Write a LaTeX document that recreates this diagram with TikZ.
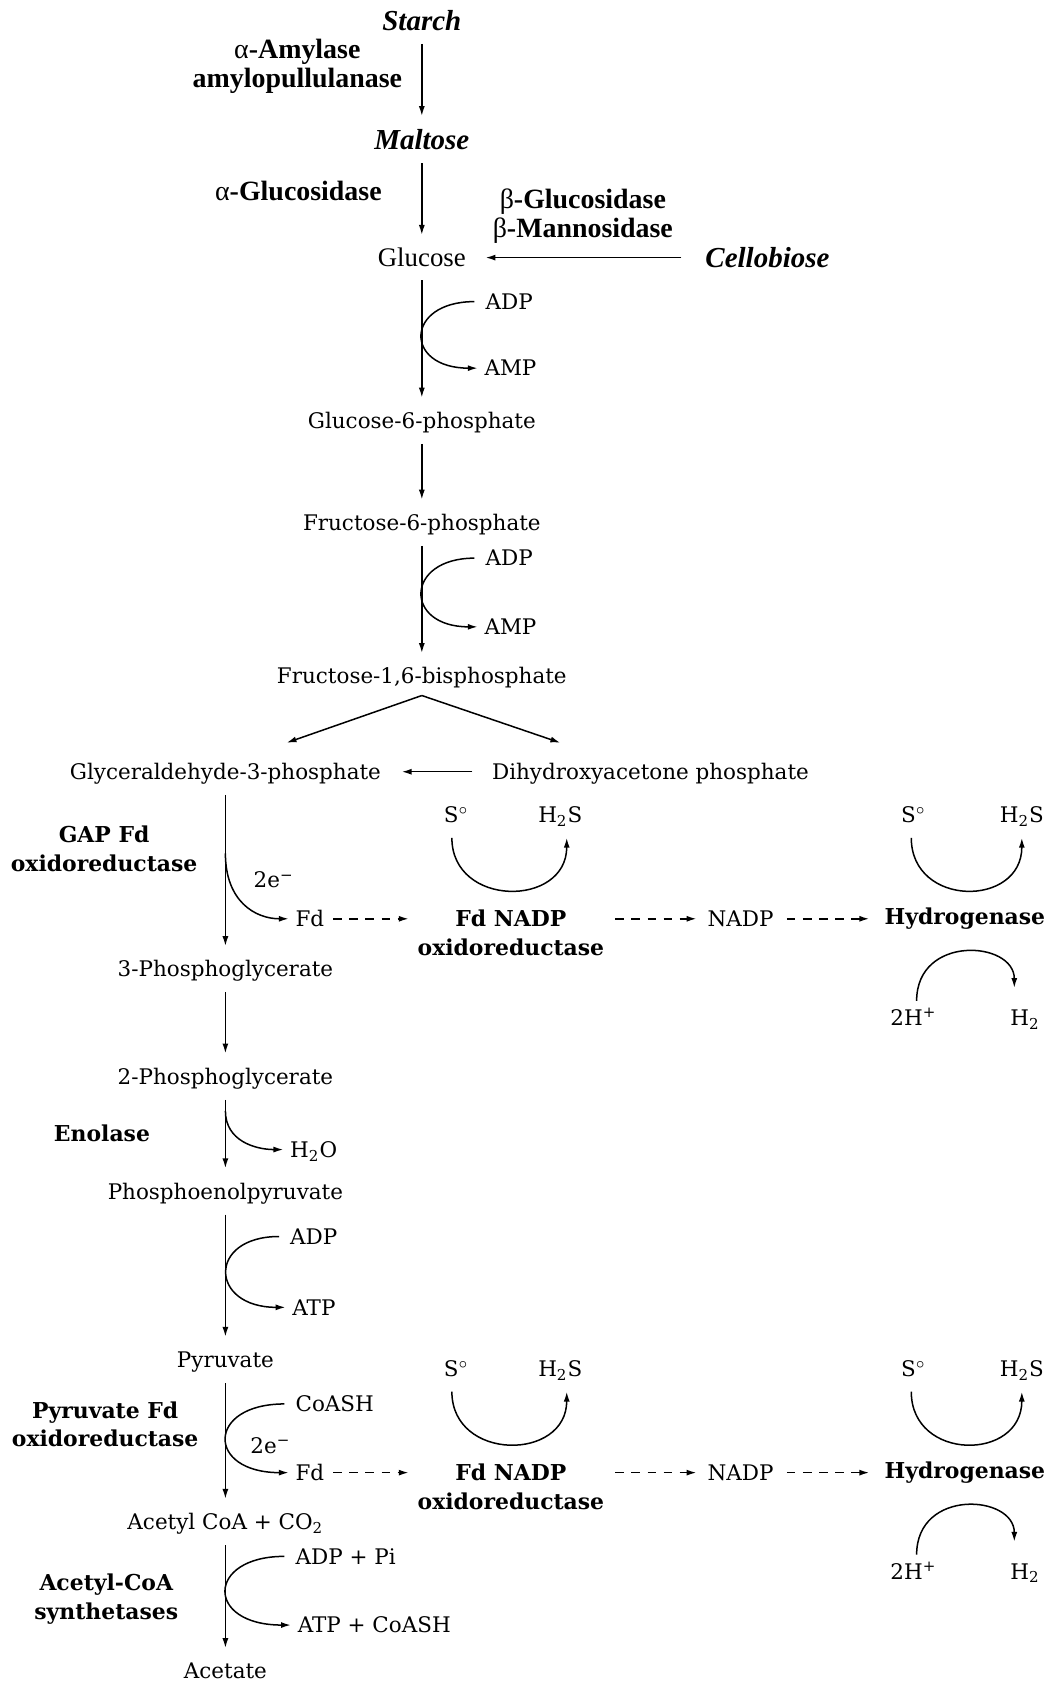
\documentclass[tikz,border=0pt]{standalone}
\usepackage{fontspec}
\setmainfont{DejaVu Serif}
\newfontfamily\tnr{Liberation Serif}
\usetikzlibrary{arrows.meta}

\begin{document}
\begin{tikzpicture}[x=0.5pt,y=-0.5pt,
  >={Latex[length=4.6pt,width=2.8pt]},
  every node/.style={inner sep=1pt},
  met/.style={font=\fontsize{10}{12}\selectfont,text height=8.2pt,text depth=1pt},
  lbl/.style={met,anchor=west},
  enz/.style={font=\fontsize{10.2}{13.5}\selectfont\bfseries,align=center},
  tms/.style={font=\tnr\fontsize{12.5}{14}\selectfont},
  tenz/.style={font=\tnr\fontsize{13}{13.5}\selectfont\bfseries,align=center},
  sugar/.style={font=\tnr\fontsize{13.5}{14}\selectfont\bfseries\itshape},
  rx/.style={->,line width=0.7pt,shorten <=5pt,shorten >=5pt},
  side/.style={->,line width=0.7pt,shorten <=4pt,shorten >=2pt},
  feed/.style={->,line width=0.7pt,dash pattern=on 4pt off 3.5pt}]
\useasboundingbox (0,0) rectangle (975,1568);

% sugars and first enzymes
\node[sugar] (starch) at (393,19) {Starch};
\node[tenz] (amy) at (277,62) {{\mdseries α}-Amylase\\amylopullulanase};
\node[sugar] (malt) at (393,130) {Maltose};
\node[tenz] (agl) at (278,178) {{\mdseries α}-Glucosidase};
\node[tenz] (bgl) at (543,201) {{\mdseries β}-Glucosidase\\{\mdseries β}-Mannosidase};
\node[tms] (glc) at (393,240) {Glucose};
\node[sugar] (cello) at (715,240) {Cellobiose};
\draw[rx] (starch) -- (malt);
\draw[rx] (malt) -- (glc);
\draw[rx,shorten <=10pt,shorten >=8pt] (cello.west) -- (glc.east);

% main pathway
\node[met] (g6p) at (393,392) {Glucose-6-phosphate};
\node[met] (f6p) at (393,487) {Fructose-6-phosphate};
\node[met] (fbp) at (393,630) {Fructose-1,6-bisphosphate};
\node[met] (gap) at (210,719) {Glyceraldehyde-3-phosphate};
\node[met] (dhap) at (606,719) {Dihydroxyacetone phosphate};
\node[met] (pg3) at (210,903) {3-Phosphoglycerate};
\node[met] (pg2) at (210,1003) {2-Phosphoglycerate};
\node[met] (pep) at (210,1110) {Phosphoenolpyruvate};
\node[met] (pyr) at (210,1267) {Pyruvate};
\node[met] (accoa) at (210,1418) {Acetyl CoA + CO\textsubscript{2}};
\node[met] (ace) at (210,1557) {Acetate};

\draw[rx] (glc) -- (g6p);
\draw[rx] (g6p) -- (f6p);
\draw[rx] (f6p) -- (fbp);
\coordinate (fork) at (393,648);
\coordinate (forkl) at (267,692);
\coordinate (forkr) at (522,692);
\draw[->,line width=0.7pt] (fork) -- (forkl);
\draw[->,line width=0.7pt] (fork) -- (forkr);
\draw[rx,shorten <=8pt,shorten >=8.5pt] (dhap.west) -- (gap.east);
\draw[rx] (gap) -- (pg3);
\draw[rx] (pg3) -- (pg2);
\draw[rx] (pg2) -- (pep);
\draw[rx] (pep) -- (pyr);
\draw[rx] (pyr) -- (accoa);
\draw[rx] (accoa) -- (ace);

% enzymes on the left
\node[enz] (gapor) at (97,791) {GAP Fd\\oxidoreductase};
\node[enz] (eno) at (95,1056) {Enolase};
\node[enz] (pfor) at (98,1327) {Pyruvate Fd\\oxidoreductase};
\node[enz] (acs) at (99,1490) {Acetyl-CoA\\synthetases};

% cofactors
\node[lbl] (adp1) at (450,281) {ADP};
\node[lbl] (amp1) at (449,343) {AMP};
\draw[side] (adp1.west) .. controls +(-73,0) and +(-73,0) .. (amp1.west);
\node[lbl] (adp2) at (450,520) {ADP};
\node[lbl] (amp2) at (449,584) {AMP};
\draw[side] (adp2.west) .. controls +(-73,0) and +(-73,0) .. (amp2.west);
\node[met] (e1) at (255,820) {2e\textsuperscript{−}};
\coordinate (br1) at (210,795);
\node[lbl] (h2o) at (268,1071) {H\textsubscript{2}O};
\coordinate (br2) at (210,1035);
\draw[side,shorten <=0pt] (br2) .. controls +(0,28) and +(-30,0) .. (h2o.west);
\node[lbl] (adp3) at (268,1152) {ADP};
\node[lbl] (atp3) at (270,1218) {ATP};
\draw[side] (adp3.west) .. controls +(-75,0) and +(-75,0) .. (atp3.west);
\node[lbl] (coash) at (273,1308) {CoASH};
\node[met] (e2) at (252,1347) {2e\textsuperscript{−}};
\node[lbl] (adppi) at (273,1450) {ADP + Pi};
\node[lbl] (atpco) at (275,1514) {ATP + CoASH};
\draw[side] (adppi.west) .. controls +(-81,0) and +(-84,0) .. (atpco.west);

% ferredoxin to hydrogenase, twice
\foreach \dy/\k in {0/1,516/2}{
  \node[lbl] (fd\k) at (273,{856+\dy}) {Fd};
  \node[enz] (fdn\k) at (476,{869+\dy}) {Fd NADP\\oxidoreductase};
  \node[met] (nadp\k) at (690,{856+\dy}) {NADP};
  \node[enz] (hyd\k) at (899,{856+\dy}) {Hydrogenase};
  \node[met] (sa\k) at (425,{759+\dy}) {S$^\circ$};
  \node[met] (ha\k) at (522,{759+\dy}) {H\textsubscript{2}S};
  \node[met] (sb\k) at (851,{759+\dy}) {S$^\circ$};
  \node[met] (hb\k) at (952,{759+\dy}) {H\textsubscript{2}S};
  \node[met] (hp\k) at (851,{948+\dy}) {2H\textsuperscript{+}};
  \node[met] (hh\k) at (955,{948+\dy}) {H\textsubscript{2}};
  \draw[feed,shorten <=3pt,shorten >=3pt] (fd\k.east) -- (fd\k.east -| fdn\k.west);
  \draw[feed,shorten <=4pt,shorten >=4pt] (fd\k.east -| fdn\k.east) -- (nadp\k.west);
  \draw[feed,shorten <=5pt,shorten >=6pt] (nadp\k.east) -- (hyd\k.west);
  \draw[side,shorten <=5pt,shorten >=5pt] ([xshift=-2pt]sa\k.south) .. controls +(0,75) and +(0,75) .. ([xshift=3pt]ha\k.south);
  \draw[side,shorten <=5pt,shorten >=5pt] ([xshift=-1pt]sb\k.south) .. controls +(0,75) and +(0,75) .. ([xshift=0pt]hb\k.south);
  \draw[side,shorten <=2pt,shorten >=8pt] ([xshift=1.5pt]hp\k.north) .. controls +(0,-66) and +(0,-60) .. ([xshift=-5pt]hh\k.north);
}
\draw[side,shorten <=0pt] (br1) .. controls +(0,45) and +(-35,0) .. (fd1.west);
\draw[side] (coash.west) .. controls +(-81,0) and +(-81,0) .. (fd2.west);
\end{tikzpicture}
\end{document}
